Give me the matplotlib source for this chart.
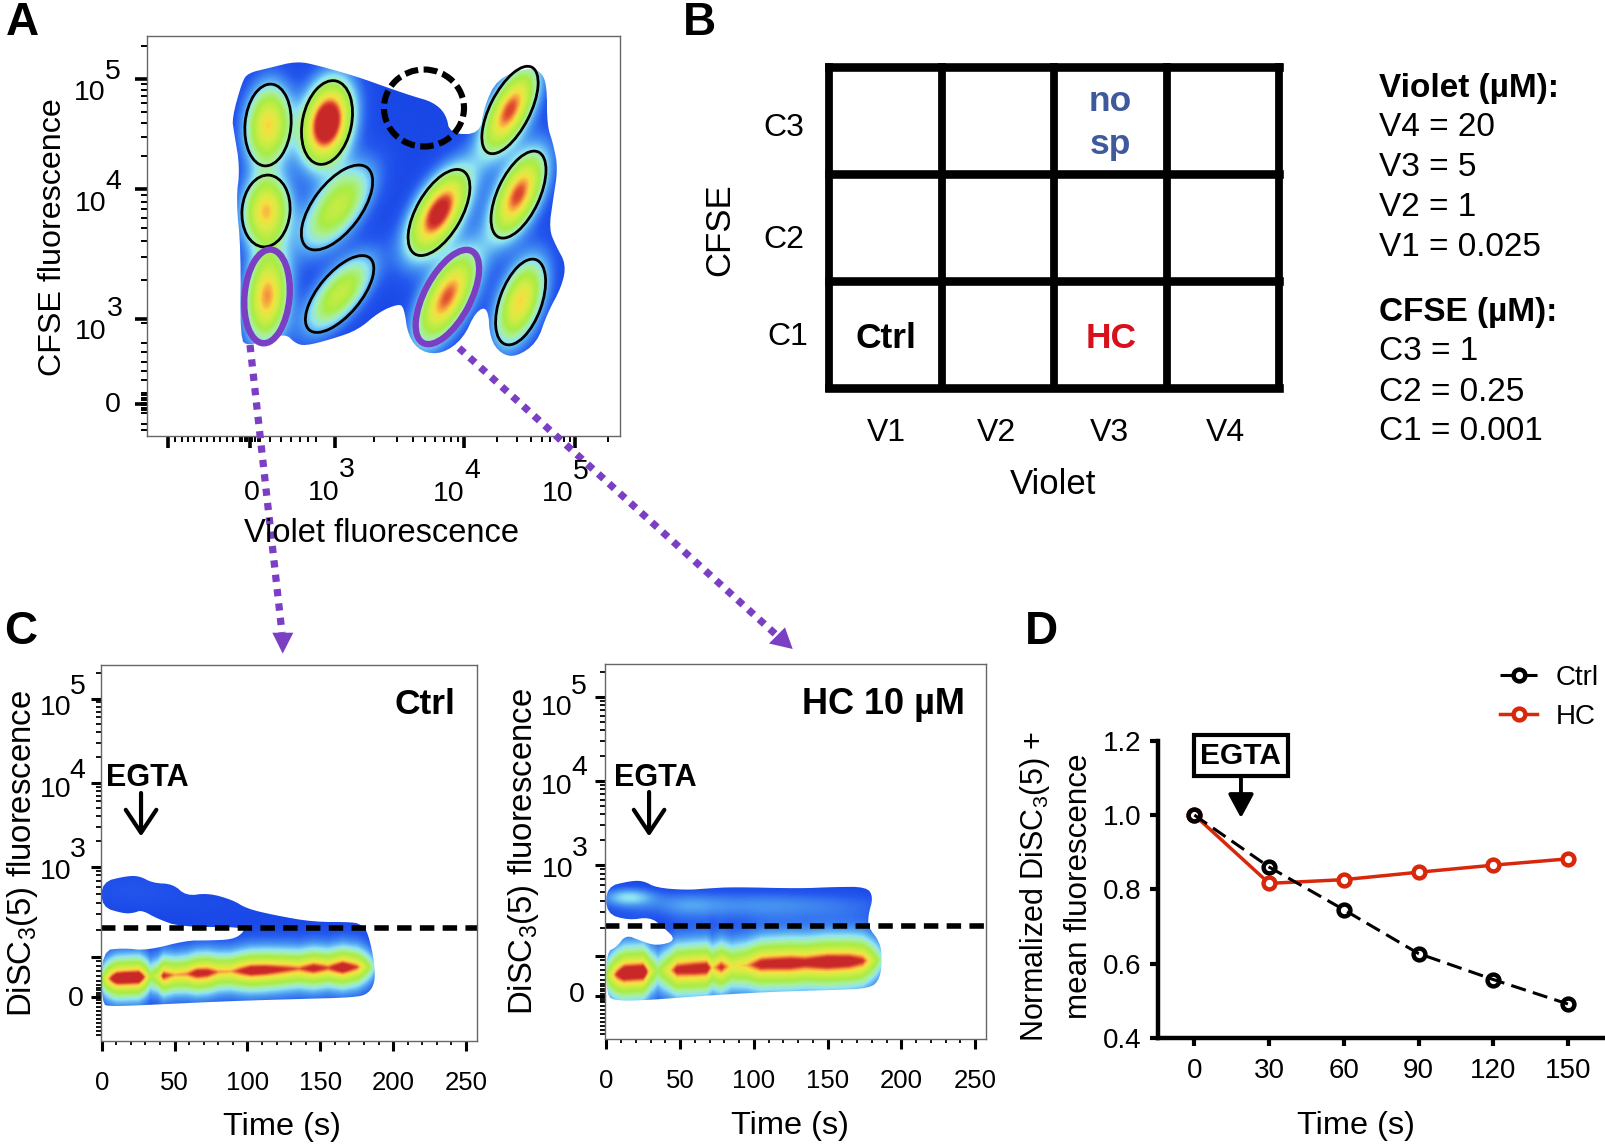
import numpy as np
import matplotlib
matplotlib.use('Agg')
import matplotlib.pyplot as plt
from matplotlib.colors import LinearSegmentedColormap
from matplotlib.lines import Line2D
from matplotlib.patches import Ellipse, Polygon

W, H = 1606, 1146
plt.rcParams['font.family'] = ['Liberation Sans', 'DejaVu Sans']
plt.rcParams['mathtext.fontset'] = 'custom'
plt.rcParams['mathtext.rm'] = 'Liberation Sans'
plt.rcParams['mathtext.bf'] = 'Liberation Sans:bold'
plt.rcParams['mathtext.default'] = 'regular'

# panel A, flow cytometry gates: channel x, channel y, semi major, semi minor, tilt (deg), peak level
gate_x = [268, 327, 510, 266, 337, 439, 518.5, 267, 339.6, 447.4, 520.6]
gate_y = [125, 122.5, 110, 211, 207.5, 212.5, 194.6, 296.4, 294, 297, 302]
gate_a = [41, 42.5, 48, 36, 50, 48, 47, 46, 47, 51, 45]
gate_b = [23, 24.5, 20, 24, 24, 22.5, 21, 21.5, 21, 22, 21]
gate_tilt = [5, 12, 27, 5, 37, 30, 25, 5, 40, 28, 20]
gate_peak = [0.74, 1.16, 0.9, 0.76, 0.56, 1.02, 0.9, 0.82, 0.56, 0.88, 0.74]
purple_gates = [7, 9]

outline_a = [(248, 73), (269, 68), (297, 61), (320, 66), (358, 77), (383, 86), (412, 96), (433, 102),
             (446, 114), (450, 134), (480, 134), (484, 107), (497, 79), (526, 68), (541, 71), (547, 86),
             (547, 125), (553, 143), (558, 168), (553, 200), (549, 229), (556, 246), (566, 264), (562, 286),
             (547, 314), (537, 343), (516, 357), (501, 354), (490, 339), (488, 307), (476, 311), (463, 339),
             (442, 354), (421, 352), (408, 336), (404, 307), (398, 304), (379, 312), (358, 330), (332, 339),
             (305, 346), (295, 343), (286, 334), (269, 339), (248, 346), (240, 339), (241, 250), (236, 200),
             (240, 168), (234, 132), (232, 118), (242, 82)]

# panel B
col_names = ['V1', 'V2', 'V3', 'V4']
row_names = ['C1', 'C2', 'C3']
violet_doses = ['V4 = 20', 'V3 = 5', 'V2 = 1', 'V1 = 0.025']
cfse_doses = ['C3 = 1', 'C2 = 0.25', 'C1 = 0.001']

# panel C, time (s), channel
outline_ctrl = [(0, 882), (17, 876), (26, 876), (35, 883), (49, 884), (58, 896), (73, 893), (90, 900),
                (99.5, 908.6), (118, 915), (145, 922), (173, 922), (178, 925), (182, 930), (186.5, 955.6),
                (188, 981), (183, 994), (173, 997.5), (136, 999), (90, 1001), (45, 1004), (6, 1006.6),
                (0, 1004), (0, 950.5), (15, 948), (31, 950.5), (58, 940.5), (72, 940.5), (90, 939.5),
                (97, 932.8), (98, 927), (54, 927), (38, 918.6), (27.5, 910), (22, 913), (15, 913.6), (0, 907)]
ridge_t_ctrl = [0, 3, 7, 10, 15, 25, 29, 33, 38, 42, 50, 58, 65, 72, 80, 88, 95, 102, 112, 125, 135, 145, 155, 165, 175, 180, 188]
ridge_l_ctrl = [0.45, 0.72, 0.98, 1.12, 1.14, 1.14, 0.85, 0.48, 0.62, 0.96, 0.8, 0.84, 1.02, 1.0, 0.82, 0.8, 0.94, 1.06, 1.04, 0.94, 0.86, 1.02, 0.88, 1.1, 0.88, 0.62, 0.2]
ridge_y_ctrl = [979, 977, 972, 969, 967]
ridge_yt_ctrl = [0, 30, 80, 130, 180]

outline_hc = [(0, 886.8), (16, 881), (25, 880.7), (34, 887.8), (54.5, 890), (68, 888.5), (86, 887), (131, 888.5),
              (154, 887), (176.5, 886.8), (181, 897), (177.6, 915), (177.6, 927), (185.5, 942), (187, 959),
              (185.5, 979), (178.8, 988.5), (154, 990), (108.7, 992), (63.5, 996), (29.6, 1000), (7, 1001),
              (0, 996), (0, 952), (7, 947), (13.3, 934.8), (22.8, 940.5), (34, 946), (47.7, 940.5), (38.6, 927),
              (29.6, 917), (15, 920.3), (0, 913.6)]
ridge_t_hc = [0, 7, 12, 25, 30, 35, 42, 48, 60, 68, 72, 78, 85, 95, 105, 115, 125, 135, 150, 165, 174, 180, 188]
ridge_l_hc = [0.45, 0.92, 1.14, 1.14, 0.66, 0.42, 0.68, 1.0, 1.04, 1.04, 0.75, 0.96, 0.7, 0.78, 1.02, 1.04, 1.06, 1.0, 1.1, 1.06, 0.94, 0.64, 0.25]
ridge_y_hc = [976, 973, 969, 964, 961, 960]
ridge_yt_hc = [0, 14, 60, 110, 174, 188]

# panel D
time_d = [0, 30, 60, 90, 120, 150]
ctrl_d = [1.0, 0.86, 0.745, 0.627, 0.557, 0.491]
hc_d = [1.0, 0.816, 0.826, 0.846, 0.865, 0.882]

flow_cmap = LinearSegmentedColormap.from_list('flow', [
    (0.0, '#1038e0'), (0.1, '#2458ee'), (0.2, '#4c9cf2'), (0.3, '#90e4f4'), (0.38, '#a8f0a0'),
    (0.5, '#a8ec44'), (0.68, '#d8ec44'), (0.78, '#f4e040'), (0.86, '#f8a040'), (0.93, '#e05030'), (1.0, '#c82828')])

fig = plt.figure(figsize=(W / 100, H / 100), dpi=100)


def axes_px(l, t, r, b):
    return fig.add_axes([l / W, 1 - b / H, (r - l) / W, (b - t) / H])


def txt(x, y, s, size, **kw):
    kw.setdefault('ha', 'center')
    kw.setdefault('va', 'center')
    # bbox of a text line includes the descent, so the glyphs sit high of the centre
    if kw.get('rotation'):
        x += 3.5
    else:
        y += 4
    return fig.text(x / W, 1 - y / H, s, fontsize=size, **kw)


def fig_xy(x, y):
    return x / W, 1 - y / H


def decade(lo, hi):
    return list(lo + (hi - lo) * np.log10(np.arange(2, 10)))


def chaikin(points, n=2):
    p = np.array(points, dtype=float)
    for _ in range(n):
        q = np.roll(p, -1, axis=0)
        p = np.column_stack([0.75 * p + 0.25 * q, 0.25 * p + 0.75 * q]).reshape(-1, 2)
    return p


def flow_style(ax):
    for s in ax.spines.values():
        s.set_color('#666666')
        s.set_linewidth(1.0)


def power_label(x10, y10, xe, ye, exp, size=20.5):
    txt(x10, y10, '10', size)
    txt(xe, ye, exp, size)


def dotted_arrow(x0, y0, x1, y1, tip, base_a, base_b):
    x, y = zip(fig_xy(x0, y0), fig_xy(x1, y1))
    fig.add_artist(Line2D(x, y, transform=fig.transFigure, color='#7b3fc4', lw=5.2, linestyle=(0, (1, 1))))
    fig.add_artist(Polygon([fig_xy(*tip), fig_xy(*base_a), fig_xy(*base_b)], closed=True,
                           transform=fig.transFigure, color='#7b3fc4', lw=0))


# ---------- panel A
ax = axes_px(147, 36, 620, 436)
flow_style(ax)
xg, yg = np.meshgrid(np.arange(147, 620.5), np.arange(36, 436.5))
field = np.full(xg.shape, 0.05)
for cx, cy, a, b, tilt, peak in zip(gate_x, gate_y, gate_a, gate_b, gate_tilt, gate_peak):
    th = np.radians(tilt)
    u = ((xg - cx) * np.sin(th) - (yg - cy) * np.cos(th)) / a
    v = ((xg - cx) * np.cos(th) + (yg - cy) * np.sin(th)) / b
    field += peak * np.exp(-1.2 * (u ** 2 + v ** 2))
im = ax.imshow(field, extent=(147, 620, 436, 36), aspect='auto', cmap=flow_cmap, vmin=0, vmax=1,
               interpolation='bilinear')
im.set_clip_path(Polygon(chaikin(outline_a), closed=True, transform=ax.transData))
for i, (cx, cy, a, b, tilt) in enumerate(zip(gate_x, gate_y, gate_a, gate_b, gate_tilt)):
    ax.add_patch(Ellipse((cx, cy), 2 * a, 2 * b, angle=tilt - 90, fc='none', ec='black', lw=2.0))
    if i in purple_gates:
        ax.add_patch(Ellipse((cx, cy), 2 * a + 2, 2 * b + 2, angle=tilt - 90, fc='none', ec='#7b3fc4', lw=4.6))
ax.add_patch(Ellipse((424, 108), 80, 77, fc='none', ec='black', lw=4.4, linestyle=(0, (2.2, 0.9))))
ax.set_xlim(147, 620)
ax.set_ylim(436, 36)
ax.set_xticks([168, 250, 335, 464, 575])
ax.set_xticks(list(np.arange(175, 240, 6.5)) + list(np.arange(240, 261, 2.5)) + [270, 281, 291, 300, 308, 316]
              + decade(335, 464) + decade(464, 575) + [608], minor=True)
ax.set_yticks([79, 189, 319, 404])
ax.set_yticks(decade(189, 79) + decade(319, 189) + [46, 323, 343, 352, 362, 371, 380, 424, 430]
              + list(np.arange(393, 414, 2.5)), minor=True)
ax.set_xticklabels([])
ax.set_yticklabels([])
ax.tick_params(which='major', length=8.5, width=2.6)
ax.tick_params(which='minor', length=4.5, width=1.4)

power_label(90, 89, 113, 68, '5')
power_label(91, 200, 113, 178, '4')
power_label(91, 328, 115, 305, '3')
txt(113, 401, '0', 20.5)
txt(252, 489, '0', 20.5)
power_label(324, 489, 347, 466, '3')
power_label(449, 490, 472, 467, '4')
power_label(558, 490, 581, 468, '5')
txt(382, 529, 'Violet fluorescence', 23.5)
txt(50, 237, 'CFSE fluorescence', 23.2, rotation=90)

# ---------- panel B
ax = axes_px(829.5, 67, 1279.5, 388)
for s in ax.spines.values():
    s.set_visible(False)
ax.hlines(range(len(row_names) + 1), 0, len(col_names), color='black', lw=6.2, clip_on=False, capstyle='projecting')
ax.vlines(range(len(col_names) + 1), 0, len(row_names), color='black', lw=5.6, clip_on=False, capstyle='projecting')
ax.set_xlim(0, len(col_names))
ax.set_ylim(0, len(row_names))
ax.set_xticks([])
ax.set_yticks([])
ax.text(0.5, 0.46, 'Ctrl', fontsize=25.5, fontweight='bold', ha='center', va='center')
ax.text(2.5, 0.46, 'HC', fontsize=25.5, fontweight='bold', color='#d8101c', ha='center', va='center')
ax.text(2.5, 2.68, 'no', fontsize=25.5, fontweight='bold', color='#3f5a9c', ha='center', va='center')
ax.text(2.5, 2.28, 'sp', fontsize=25.5, fontweight='bold', color='#3f5a9c', ha='center', va='center')
for name, x in zip(col_names, [886, 996, 1109, 1225]):
    txt(x, 429, name, 23)
for name, x, y in zip(row_names, [788, 784, 784], [333, 236, 124]):
    txt(x, y, name, 23)
txt(1053, 480, 'Violet', 25)
txt(716, 230, 'CFSE', 25, rotation=90)
txt(1379, 85, 'Violet (µM):', 24, ha='left', fontweight='bold')
for name, y in zip(violet_doses, [124, 164, 204, 244]):
    txt(1379, y, name, 24, ha='left')
txt(1379, 308, 'CFSE (µM):', 24, ha='left', fontweight='bold')
for name, y in zip(cfse_doses, [348, 388, 428]):
    txt(1379, y, name, 24, ha='left')


# ---------- panel C
def time_panel(box, x_zero, px_per_s, major_y, outline, ridge_t, ridge_l, ridge_yt, ridge_y, width, lobe, cut_y):
    l, t, r, b = box
    ax = axes_px(l, t, r, b)
    flow_style(ax)
    xlim = ((l - x_zero) / px_per_s, (r - x_zero) / px_per_s)
    tg, yg = np.meshgrid(np.linspace(xlim[0], xlim[1], 500), np.arange(t, b + 0.5))
    yc = np.interp(tg, ridge_yt, ridge_y)
    level = np.interp(tg, ridge_t, ridge_l)
    # sharp core along the ridge, broad skirt reaching down to the band edges
    d = np.abs(yg - yc) / width
    field = 0.04 + level * np.exp(-d ** 1.3)
    for (tc, yc0, st, sy, amp) in lobe:
        field += amp * np.exp(-((tg - tc) / st) ** 2 - ((yg - yc0) / sy) ** 2)
    im = ax.imshow(field, extent=(xlim[0], xlim[1], b, t), aspect='auto', cmap=flow_cmap, vmin=0, vmax=1,
                   interpolation='bilinear')
    im.set_clip_path(Polygon(chaikin(outline), closed=True, transform=ax.transData))
    ax.plot(xlim, [cut_y, cut_y], color='black', lw=4.0, linestyle=(0, (2.6, 1.5)), scalex=False, scaley=False)
    ax.set_xlim(xlim)
    ax.set_ylim(b, t)
    ax.set_xticks(np.arange(0, 251, 50))
    ax.set_xticks(np.arange(0, 251, 10), minor=True)
    ax.set_yticks(major_y + [major_y[3] + 40])
    y5, y4, y3, y2 = major_y
    zero = y2 + 40
    ax.set_yticks(decade(y4, y5) + decade(y3, y4) + decade(y2, y3) + [y5 - 25.5]
                  + list(np.arange(y2 + 4, zero - 12, 5)) + list(np.arange(zero - 12, zero + 6, 2.5))
                  + list(np.arange(zero + 6, b - 2, 4)), minor=True)
    ax.set_yticklabels([])
    ax.tick_params(axis='x', which='major', length=7, width=2.2, labelsize=18.5, pad=14.5)
    ax.tick_params(axis='x', which='minor', length=3, width=1.3)
    ax.tick_params(axis='y', which='major', length=7, width=2.2)
    ax.tick_params(axis='y', which='minor', length=3.5, width=1.3)
    return ax


lobes_ctrl = [(20, 889, 40, 18, 0.05), (80, 905, 60, 14, 0.02)]
lobes_hc = [(15, 897, 17, 9, 0.22), (100, 905, 90, 14, 0.13), (55, 905, 20, 12, 0.06)]
ax_c1 = time_panel((100.7, 664.6, 477, 1041), 101.7, 1.457, [698.5, 782.7, 866.6, 957], outline_ctrl,
                   ridge_t_ctrl, ridge_l_ctrl, ridge_yt_ctrl, ridge_y_ctrl, 16, lobes_ctrl, 928)
ax_c2 = time_panel((605.3, 663.6, 986, 1038.8), 606.3, 1.475, [697, 781, 865, 955.6], outline_hc,
                   ridge_t_hc, ridge_l_hc, ridge_yt_hc, ridge_y_hc, 20, lobes_hc, 926.4)

power_label(55.5, 703.6, 78, 683, '5')
power_label(56, 786, 77, 766.7, '4')
power_label(56, 868, 78, 846, '3')
txt(75.7, 995.5, '0', 20.5)
power_label(557, 703.6, 579, 683.4, '5')
power_label(557, 783.4, 579, 764, '4')
power_label(558, 866, 580, 844.5, '3')
txt(577, 991, '0', 20.5)
txt(282, 1123, 'Time (s)', 23.4)
txt(790, 1122, 'Time (s)', 23.4)
txt(19.5, 854, 'DiSC$_3$(5) fluorescence', 23.7, rotation=90)
txt(520, 852, 'DiSC$_3$(5) fluorescence', 23.7, rotation=90)
txt(425, 700.5, 'Ctrl', 25.5, fontweight='bold')
txt(883, 700, 'HC 10 µM', 26, fontweight='bold')
txt(147, 774.4, 'EGTA', 22, fontweight='bold')
txt(655, 773.7, 'EGTA', 22, fontweight='bold')
for a_, t_arrow, y0, y1 in [(ax_c1, 27, 793, 836.5), (ax_c2, 29, 792, 836.5)]:
    a_.annotate('', xy=(t_arrow, y1), xytext=(t_arrow, y0),
                arrowprops=dict(arrowstyle='->,head_length=0.75,head_width=0.5', color='black', lw=3.0,
                                shrinkA=0, shrinkB=0, mutation_scale=22))

# ---------- panel D
ax = axes_px(1157.6, 740.8, 1605, 1037.8)
ax.plot(time_d, ctrl_d, color='black', lw=2.2, linestyle=(0, (5, 2.4)), marker='o', ms=8.5, mew=3.2,
        mec='black', mfc='none', label='Ctrl', zorder=4, clip_on=False)
ax.plot(time_d, hc_d, color='#d8280c', lw=2.5, marker='o', ms=8.5, mew=3.2, mec='#d8280c', mfc='white',
        label='HC', zorder=3, clip_on=False)
ax.set_xlim((1157.6 - 1194.4) / 2.49, (1605 - 1194.4) / 2.49)
ax.set_ylim(0.4, 1.2)
ax.set_xticks(time_d)
ax.set_yticks([0.4, 0.6, 0.8, 1.0, 1.2])
ax.set_yticklabels(['0.4', '0.6', '0.8', '1.0', '1.2'])
ax.spines['top'].set_visible(False)
ax.spines['right'].set_visible(False)
ax.spines['left'].set_linewidth(3.2)
ax.spines['bottom'].set_linewidth(3.2)
ax.tick_params(axis='both', length=5.8, width=3.0, labelsize=20)
ax.tick_params(axis='x', pad=8.6)
ax.tick_params(axis='y', pad=5.8)
ax.legend(loc='upper left', bbox_to_anchor=fig_xy(1500, 665), bbox_transform=fig.transFigure, frameon=False,
          fontsize=20, borderpad=0, borderaxespad=0, handlelength=1.34, handletextpad=0.68, labelspacing=0.46)
ax.text(18.7, 1.16, 'EGTA', fontsize=21.5, fontweight='bold', ha='center', va='center', zorder=6,
        bbox=dict(boxstyle='square,pad=0.22', fc='white', ec='black', lw=3))
ax.annotate('', xy=(18.7, 0.992), xytext=(18.7, 1.11),
            arrowprops=dict(arrowstyle='-|>,head_length=0.65,head_width=0.35', color='black', lw=2.8,
                            shrinkA=0, shrinkB=0, mutation_scale=22))
txt(1355.7, 1122, 'Time (s)', 23.4)
txt(1031, 886, 'Normalized DiSC$_3$(5) +', 22, rotation=90)
txt(1076, 886, 'mean fluorescence', 22.6, rotation=90)

# ---------- panel letters and connecting arrows
for letter, x, y in [('A', 22, 19), ('B', 699, 19), ('C', 21, 628), ('D', 1041, 628)]:
    txt(x, y, letter, 33, fontweight='bold')
dotted_arrow(250, 345, 282, 633, (282.7, 653.6), (272.3, 632.7), (293.3, 632.7))
dotted_arrow(459, 348, 777, 635.5, (792.7, 649), (769, 643.5), (785, 627.4))

fig.savefig('out.png', dpi=100)
